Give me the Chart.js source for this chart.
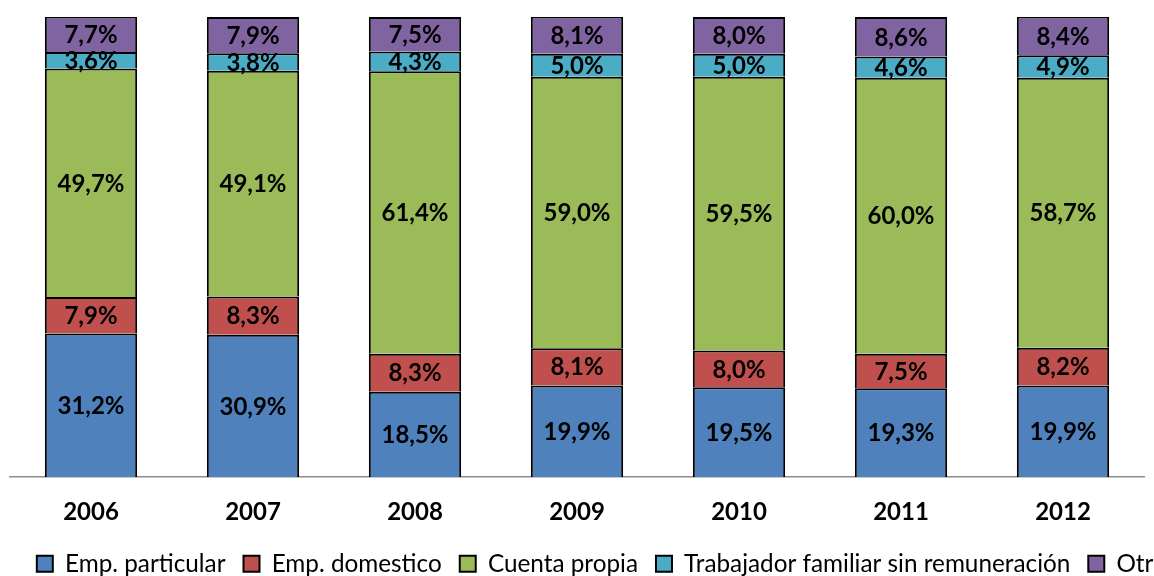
<!DOCTYPE html>
<html>
<head>
<meta charset="utf-8">
<script src="https://cdn.jsdelivr.net/npm/chart.js@4"></script>
<style>
  html, body { margin: 0; padding: 0; background: #fff; overflow: hidden; }
  #wrap { width: 1222px; height: 576px; overflow: hidden; }
</style>
</head>
<body>
<div id="wrap"><canvas id="myChart" width="1222" height="586"></canvas></div>
<script>
const years = ['2006', '2007', '2008', '2009', '2010', '2011', '2012'];
const empParticular = [31.2, 30.9, 18.5, 19.9, 19.5, 19.3, 19.9];
const empDomestico = [7.9, 8.3, 8.3, 8.1, 8.0, 7.5, 8.2];
const cuentaPropia = [49.7, 49.1, 61.4, 59.0, 59.5, 60.0, 58.7];
const trabFamiliar = [3.6, 3.8, 4.3, 5.0, 5.0, 4.6, 4.9];
const otros = [7.7, 7.9, 7.5, 8.1, 8.0, 8.6, 8.4];

const FONT = 'Lato, "Open Sans", sans-serif';

// draw the value in the middle of every segment
const barLabels = {
    id: 'barLabels',
    afterDatasetsDraw(chart) {
        const c = chart.ctx;
        c.save();
        c.font = 'bold 24px ' + FONT;
        c.fillStyle = '#000';
        c.textAlign = 'center';
        c.textBaseline = 'middle';
        chart.data.datasets.forEach((ds, i) => {
            chart.getDatasetMeta(i).data.forEach((bar, j) => {
                const txt = ds.data[j].toFixed(1).replace('.', ',') + '%';
                c.fillText(txt, bar.x, (bar.y + bar.base) / 2 + 1);
            });
        });
        c.restore();
    }
};

const ctx = document.getElementById('myChart');
const myChart = new Chart(ctx, {
    type: 'bar',
    data: {
        labels: years,
        datasets: [
            { label: 'Emp. particular', data: empParticular, backgroundColor: '#4F81BD' },
            { label: 'Emp. domestico', data: empDomestico, backgroundColor: '#C0504D' },
            { label: 'Cuenta propia', data: cuentaPropia, backgroundColor: '#9BBB59' },
            { label: 'Trabajador familiar sin remuneración', data: trabFamiliar, backgroundColor: '#4BACC6' },
            { label: 'Otros', data: otros, backgroundColor: '#8064A2' }
        ].map(d => Object.assign(d, {
            borderColor: '#000',
            borderWidth: 2,
            borderSkipped: 'start',
            categoryPercentage: 1,
            barPercentage: 0.57
        }))
    },
    options: {
        responsive: false,
        animation: false,
        layout: { padding: { top: 17, left: 10, right: 18, bottom: 0 } },
        scales: {
            x: {
                stacked: true,
                grid: { display: false },
                border: { color: '#8c8c8c', width: 1.5 },
                ticks: { color: '#000', font: { family: FONT, size: 24, weight: 'bold' }, padding: 13 },
                afterFit(scale) { scale.height -= 6; }
            },
            y: {
                stacked: true,
                position: 'right',
                min: 0,
                max: 100,
                grid: { display: false },
                border: { display: false },
                ticks: { display: false },
                // empty space on the right so the legend sits off-centre like the original
                afterFit(scale) { scale.width = 60; }
            }
        },
        plugins: {
            tooltip: { enabled: false },
            legend: {
                position: 'bottom',
                labels: {
                    color: '#000',
                    font: { family: FONT, size: 24.3 },
                    boxWidth: 16,
                    boxHeight: 16,
                    padding: 18,
                    useBorderRadius: false
                }
            }
        }
    },
    plugins: [barLabels]
});
</script>
</body>
</html>
